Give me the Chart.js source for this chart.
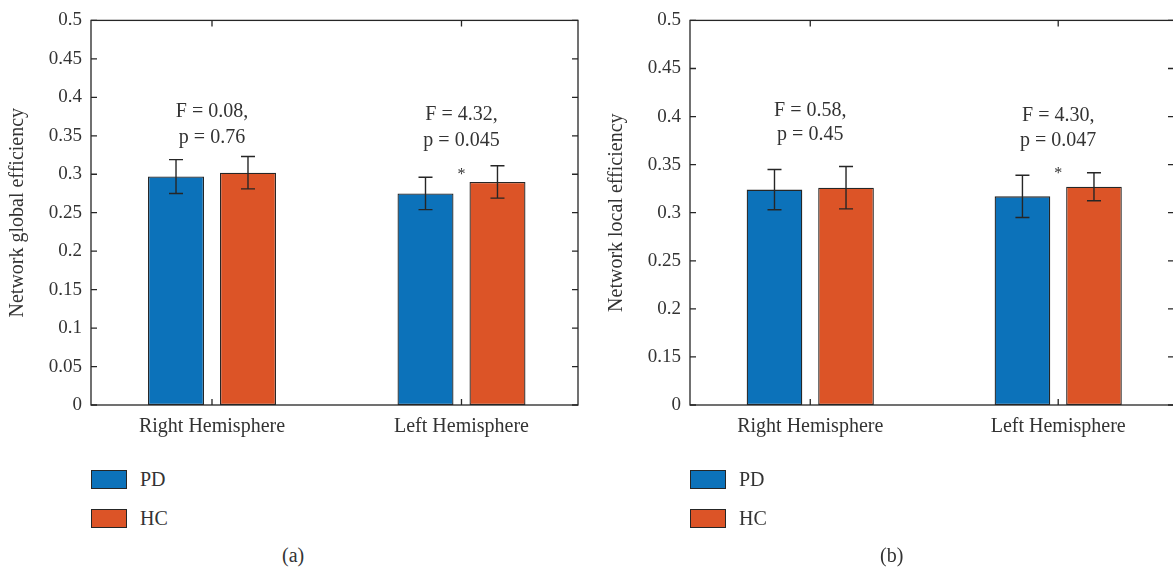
<!DOCTYPE html>
<html lang="en">
<head>
<meta charset="UTF-8" />
<title>Network efficiency by hemisphere</title>
<script src="https://cdn.jsdelivr.net/npm/chart.js"></script>
<style>
  body {
    margin: 0;
    width: 1173px;
    height: 569px;
    overflow: hidden;
    background: #fff;
    font-family: "Liberation Serif", serif;
    color: #333;
  }
  .panel {
    position: absolute;
    top: 0;
    width: 600px;
    height: 569px;
  }
  .panel canvas {
    position: absolute;
    left: 0;
    top: 0;
  }
  .swatch {
    position: absolute;
    left: 91px;
    width: 34px;
    height: 17px;
    border: 1px solid #262626;
  }
  .legend-text {
    position: absolute;
    left: 140px;
    font-size: 20px;
    line-height: 20px;
  }
  .caption {
    position: absolute;
    top: 545px;
    font-size: 20px;
    line-height: 20px;
  }
</style>
</head>
<body>
  <div class="panel" style="left: 0px">
    <canvas id="globalChart" width="600" height="450"></canvas>
    <div class="swatch" style="top: 470px; background: #0c72ba"></div>
    <div class="legend-text" style="top: 469px">PD</div>
    <div class="swatch" style="top: 509px; background: #dc5427"></div>
    <div class="legend-text" style="top: 508px">HC</div>
    <div class="caption" style="left: 282px">(a)</div>
  </div>
  <div class="panel" style="left: 599px">
    <canvas id="localChart" width="600" height="450"></canvas>
    <div class="swatch" style="top: 470px; background: #0c72ba"></div>
    <div class="legend-text" style="top: 469px">PD</div>
    <div class="swatch" style="top: 509px; background: #dc5427"></div>
    <div class="legend-text" style="top: 508px">HC</div>
    <div class="caption" style="left: 281px">(b)</div>
  </div>

<script>
// categories and values
const categories = ["Right Hemisphere", "Left Hemisphere"];
const groups = ["PD", "HC"];

const globalPD = [0.297, 0.275];
const globalHC = [0.302, 0.290];
const globalPDErr = [0.022, 0.021];
const globalHCErr = [0.021, 0.021];

const localPD = [0.324, 0.317];
const localHC = [0.326, 0.327];
const localPDErr = [0.021, 0.022];
const localHCErr = [0.022, 0.0145];

const globalTicks = [0, 0.05, 0.1, 0.15, 0.2, 0.25, 0.3, 0.35, 0.4, 0.45, 0.5];
const localTicks = [0.1, 0.15, 0.2, 0.25, 0.3, 0.35, 0.4, 0.45, 0.5]; // 0.1 is shown as "0"

const globalStats = [["F = 0.08,", "p = 0.76"], ["F = 4.32,", "p = 0.045"]];
const localStats = [["F = 0.58,", "p = 0.45"], ["F = 4.30,", "p = 0.047"]];

const BLUE = "#0c72ba";
const ORANGE = "#dc5427";
const INK = "#262626";
const TEXT = "#333";
const FONT = "'Liberation Serif', serif";

// error bars with caps
const errorBars = {
  id: "errorBars",
  afterDatasetsDraw(chart) {
    const ctx = chart.ctx;
    const y = chart.scales.y;
    ctx.save();
    ctx.strokeStyle = INK;
    ctx.lineWidth = 1.4;
    chart.data.datasets.forEach((ds, d) => {
      chart.getDatasetMeta(d).data.forEach((bar, i) => {
        const v = ds.data[i], e = ds.errors[i];
        const top = y.getPixelForValue(v + e);
        const bot = y.getPixelForValue(v - e);
        ctx.beginPath();
        ctx.moveTo(bar.x, top); ctx.lineTo(bar.x, bot);
        ctx.moveTo(bar.x - 7, top); ctx.lineTo(bar.x + 7, top);
        ctx.moveTo(bar.x - 7, bot); ctx.lineTo(bar.x + 7, bot);
        ctx.stroke();
      });
    });
    ctx.restore();
  }
};

// closed box with inward ticks
const frame = {
  id: "frame",
  afterDraw(chart) {
    const { ctx, chartArea: a, scales } = chart;
    ctx.save();
    ctx.strokeStyle = INK;
    ctx.lineWidth = 1.3;
    ctx.strokeRect(a.left, a.top, a.right - a.left, a.bottom - a.top);
    ctx.beginPath();
    scales.y.ticks.forEach(t => {
      const py = scales.y.getPixelForValue(t.value);
      ctx.moveTo(a.left, py); ctx.lineTo(a.left + 6, py);
      ctx.moveTo(a.right, py); ctx.lineTo(a.right - 6, py);
    });
    scales.x.ticks.forEach(t => {
      const px = scales.x.getPixelForValue(t.value);
      ctx.moveTo(px, a.bottom); ctx.lineTo(px, a.bottom - 6);
      ctx.moveTo(px, a.top); ctx.lineTo(px, a.top + 6);
    });
    ctx.stroke();
    ctx.restore();
  }
};

// F / p annotations and significance star
const statText = {
  id: "statText",
  afterDraw(chart, args, opts) {
    const { ctx, scales } = chart;
    ctx.save();
    ctx.fillStyle = TEXT;
    ctx.textAlign = "center";
    ctx.textBaseline = "middle";
    ctx.font = "20px " + FONT;
    opts.lines.forEach((pair, i) => {
      const px = scales.x.getPixelForValue(i + 1);
      ctx.fillText(pair[0], px, scales.y.getPixelForValue(opts.at[i][0]));
      ctx.fillText(pair[1], px, scales.y.getPixelForValue(opts.at[i][1]));
    });
    ctx.font = "16px " + FONT;
    ctx.fillText("*", scales.x.getPixelForValue(opts.star[0]), scales.y.getPixelForValue(opts.star[1]) + 3);
    ctx.restore();
  }
};

function fmt(v, min) {
  if (Math.abs(v - min) < 1e-9 && min > 0) return "0";
  return String(Math.round(v * 100) / 100);
}

function makeChart(id, pd, hc, pdErr, hcErr, tickValues, yTitle, stats, statAt, star) {
  const yMin = tickValues[0];
  const yMax = tickValues[tickValues.length - 1];
  return new Chart(document.getElementById(id), {
    type: "bar",
    data: {
      labels: [1, 2],
      datasets: [
        { label: groups[0], data: pd, errors: pdErr, backgroundColor: BLUE },
        { label: groups[1], data: hc, errors: hcErr, backgroundColor: ORANGE }
      ]
    },
    options: {
      responsive: false,
      animation: false,
      layout: { padding: { top: 19, right: id === "localChart" ? 25 : 22, left: 0, bottom: 0 } },
      datasets: {
        bar: {
          base: yMin,
          borderColor: INK,
          borderWidth: 1.3,
          borderSkipped: false,
          categoryPercentage: 0.577,
          barPercentage: 0.778
        }
      },
      scales: {
        x: {
          type: "linear",
          offset: false,
          min: 0.515,
          max: 2.467,
          afterBuildTicks: s => { s.ticks = categories.map((c, i) => ({ value: i + 1 })); },
          afterFit: s => { s.height = 45; },
          grid: { display: false, drawTicks: false },
          border: { display: false },
          ticks: {
            padding: 10,
            color: TEXT,
            font: { family: FONT, size: 20 },
            callback: (v, i) => categories[i]
          }
        },
        y: {
          min: yMin,
          max: yMax,
          afterBuildTicks: s => { s.ticks = tickValues.map(v => ({ value: v })); },
          afterFit: s => { s.width = 91; },
          grid: { display: false, drawTicks: false },
          border: { display: false },
          ticks: {
            padding: 9,
            color: TEXT,
            font: { family: FONT, size: 19 },
            callback: v => fmt(v, yMin)
          },
          title: {
            display: true,
            text: yTitle,
            color: TEXT,
            font: { family: FONT, size: 20 },
            padding: { top: 6, bottom: 0 }
          }
        }
      },
      plugins: {
        legend: { display: false },
        tooltip: { enabled: false },
        statText: { lines: stats, at: statAt, star: star }
      }
    },
    plugins: [errorBars, frame, statText]
  });
}

makeChart("globalChart", globalPD, globalHC, globalPDErr, globalHCErr, globalTicks,
  "Network global efficiency", globalStats,
  [[0.381, 0.348], [0.377, 0.343]], [2, 0.303]);

makeChart("localChart", localPD, localHC, localPDErr, localHCErr, localTicks,
  "Network local efficiency", localStats,
  [[0.406, 0.381], [0.4005, 0.3746]], [2, 0.3435]);
</script>
</body>
</html>
